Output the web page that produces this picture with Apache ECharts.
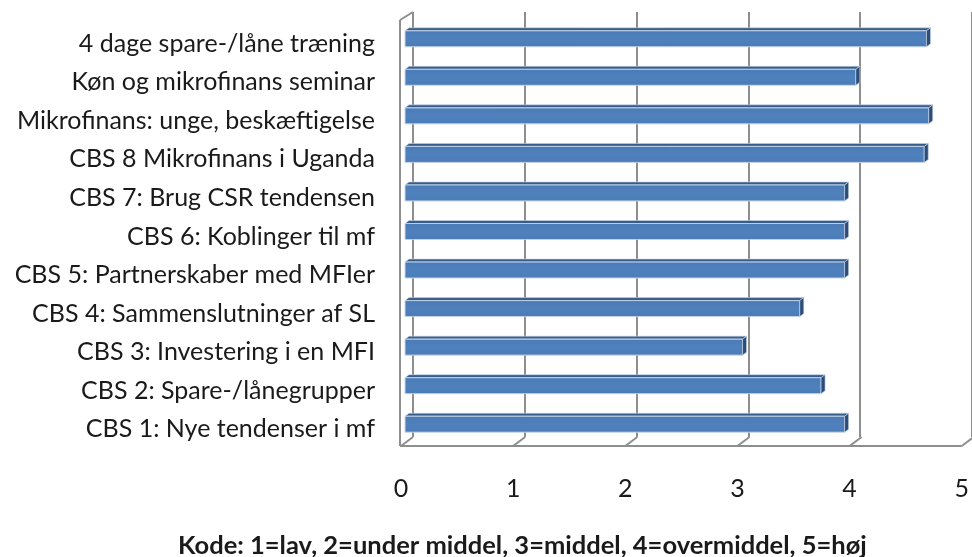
<!DOCTYPE html>
<html>
<head>
<meta charset="utf-8">
<script src="https://cdn.jsdelivr.net/npm/echarts@6/dist/echarts.min.js"></script>
<style>
html,body{margin:0;padding:0;background:#fff;}
#chart{width:972px;height:557px;}
</style>
</head>
<body>
<div id="chart"></div>
<script>
// ---- data (top to bottom) ----
var categories = [
  '4 dage spare-/låne træning',
  'Køn og mikrofinans seminar',
  'Mikrofinans: unge, beskæftigelse',
  'CBS 8 Mikrofinans i Uganda',
  'CBS 7: Brug CSR tendensen',
  'CBS 6: Koblinger til mf',
  'CBS 5: Partnerskaber med MFIer',
  'CBS 4: Sammenslutninger af SL',
  'CBS 3: Investering i en MFI',
  'CBS 2: Spare-/lånegrupper',
  'CBS 1: Nye tendenser i mf'
];
var values = [4.65, 4.02, 4.67, 4.63, 3.92, 3.92, 3.92, 3.52, 3.01, 3.71, 3.92];
var xTicks = [0, 1, 2, 3, 4, 5];
var axisTitle = 'Kode: 1=lav, 2=under middel, 3=middel, 4=overmiddel, 5=høj';

var FONT = 'Lato, "Open Sans", sans-serif';
var chart = echarts.init(document.getElementById('chart'), null, {renderer: 'canvas'});

var DEPTH_X = 12, DEPTH_Y = 9;      // wall depth
var BAR_OX = 4, BAR_OY = 5;         // bar front plane offset
var BAR_H = 16, BAR_DX = 4, BAR_DY = 3;

function renderBar(params, api) {
  var cat = api.value(0), val = api.value(1);
  var p0 = api.coord([0, cat]);
  var p1 = api.coord([val, cat]);
  var x0 = p0[0] + BAR_OX, x1 = p1[0] + BAR_OX;
  var cy = p0[1] - BAR_OY;
  var y0 = cy - BAR_H / 2, y1 = cy + BAR_H / 2;
  return {
    type: 'group',
    children: [
      {type: 'polygon', shape: {points: [[x0, y0], [x1, y0], [x1 + BAR_DX, y0 - BAR_DY], [x0 + BAR_DX, y0 - BAR_DY]]},
       style: {fill: '#385d8a', stroke: '#c9d7ea', lineWidth: 0.6}},
      {type: 'rect', shape: {x: x0, y: y0, width: x1 - x0, height: BAR_H},
       style: {fill: new echarts.graphic.LinearGradient(0, 0, 0, 1, [
         {offset: 0, color: '#4a7bb7'}, {offset: 0.5, color: '#4f81bd'}, {offset: 1, color: '#4b7cb8'}]),
         stroke: '#c9d7ea', lineWidth: 0.6}},
      {type: 'polygon', shape: {points: [[x1, y0], [x1 + BAR_DX, y0 - BAR_DY], [x1 + BAR_DX, y1 - BAR_DY], [x1, y1]]},
       style: {fill: '#2c4d7a', stroke: '#c9d7ea', lineWidth: 0.6}}
    ]
  };
}

var FRONT_LEFT = 401, FRONT_W = 566, TOP = 24.5, H = 424;

chart.setOption({
  animation: false,
  backgroundColor: '#ffffff',
  title: {
    text: axisTitle,
    left: 173, top: 528,
    textStyle: {fontFamily: FONT, fontWeight: 'bold', fontSize: 25.5, color: '#1a1a1a'}
  },
  grid: [
    {left: FRONT_LEFT, width: FRONT_W, top: TOP, height: H},
    {left: FRONT_LEFT + DEPTH_X, width: FRONT_W, top: 12, height: 437 - 12}
  ],
  xAxis: [
    {type: 'value', gridIndex: 0, min: 0, max: 5, interval: 1,
     axisLine: {show: false}, axisTick: {show: false}, splitLine: {show: false},
     axisLabel: {margin: 28, fontFamily: FONT, fontSize: 25, color: '#1a1a1a',
       formatter: function (v) { return xTicks.indexOf(v) >= 0 ? String(v) : ''; }}},
    {type: 'value', gridIndex: 1, min: 0, max: 5, interval: 1,
     axisLine: {show: false}, axisTick: {show: false}, axisLabel: {show: false},
     splitLine: {show: true, lineStyle: {color: '#8e8e8e', width: 2}}}
  ],
  yAxis: [
    {type: 'category', gridIndex: 0, data: categories, inverse: true,
     axisLine: {show: false}, axisTick: {show: false}, splitLine: {show: false},
     axisLabel: {margin: 26, fontFamily: FONT, fontSize: 25, color: '#1a1a1a'}},
    {type: 'category', gridIndex: 1, data: categories, inverse: true, show: false}
  ],
  series: [{
    type: 'custom',
    xAxisIndex: 0, yAxisIndex: 0,
    renderItem: renderBar,
    encode: {x: 1, y: 0},
    data: values.map(function (v, i) { return [i, v]; }),
    z: 10
  }]
});

// walls / floor edges positioned from the axis scale
var floorY = 446;
var lineStyle = {stroke: '#8e8e8e', lineWidth: 2};
var g = [];
xTicks.forEach(function (t) {
  var x = chart.convertToPixel({xAxisIndex: 0}, t);
  g.push({type: 'line', shape: {x1: x, y1: floorY, x2: x + DEPTH_X, y2: floorY - DEPTH_Y}, style: lineStyle});
});
var xStart = chart.convertToPixel({xAxisIndex: 0}, 0);
var xEnd = chart.convertToPixel({xAxisIndex: 0}, 5);
g.push({type: 'line', shape: {x1: xStart - 1, y1: floorY, x2: xEnd, y2: floorY}, style: lineStyle});
g.push({type: 'line', shape: {x1: xStart - 1, y1: floorY, x2: xStart - 1, y2: 20}, style: lineStyle});
g.push({type: 'line', shape: {x1: xStart - 1, y1: 20, x2: xStart + DEPTH_X, y2: 12}, style: lineStyle});
chart.setOption({graphic: g});
</script>
</body>
</html>
